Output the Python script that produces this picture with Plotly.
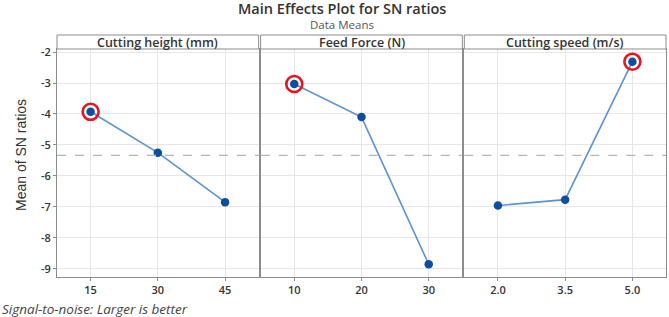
import plotly.graph_objects as go
from plotly.subplots import make_subplots
import numpy as np

# ---- data ----
factor_names = ["Cutting height (mm)", "Feed Force (N)", "Cutting speed (m/s)"]
height_levels = [15, 30, 45]
height_sn = [-3.93, -5.25, -6.85]
force_levels = [10, 20, 30]
force_sn = [-3.03, -4.10, -8.86]
speed_levels = [2.0, 3.5, 5.0]
speed_sn = [-6.96, -6.77, -2.31]
speed_ticklabels = ["2.0", "3.5", "5.0"]
y_ticks = [-2, -3, -4, -5, -6, -7, -8, -9]
y_ticklabels = ["-2", "-3", "-4", "-5", "-6", "-7", "-8", "-9"]

levels = [height_levels, force_levels, speed_levels]
values = [height_sn, force_sn, speed_sn]
ticklabels = [[str(v) for v in height_levels], [str(v) for v in force_levels], speed_ticklabels]

W, H = 669, 317
ml, mr, mt, mb = 57, 3, 35, 40
plot_w = W - ml - mr
plot_h = H - mt - mb
strip_h = 14
ytop = 1 - strip_h / plot_h


def px_x(px):
    return (px - ml) / plot_w


def px_y(py):
    return (H - mb - py) / plot_h


fig = make_subplots(rows=1, cols=3, shared_yaxes=True, horizontal_spacing=0.0033)

line_col = "#5b93d3"
marker_col = "#0d4f9e"
grid_col = "#e6e6e6"
frame_col = "#8c8c8c"
font_fam = "Open Sans, Noto Sans, sans-serif"

grand_mean = float(np.mean(np.concatenate([np.array(v) for v in values])))

for i in range(3):
    x = levels[i]
    y = values[i]
    fig.add_trace(go.Scatter(x=x, y=y, mode="lines+markers",
                             line=dict(color=line_col, width=1.6),
                             marker=dict(color=marker_col, size=8.5),
                             showlegend=False, hoverinfo="skip"), row=1, col=i + 1)
    best = int(np.argmax(y))
    fig.add_trace(go.Scatter(x=[x[best]], y=[y[best]], mode="markers",
                             marker=dict(symbol="circle-open", color="#e8151b", size=16,
                                         line=dict(width=2.6, color="#e8151b")),
                             showlegend=False, hoverinfo="skip"), row=1, col=i + 1)
    step = x[1] - x[0]
    fig.update_xaxes(range=[x[0] - step / 2, x[-1] + step / 2],
                     tickvals=x, ticktext=ticklabels[i], automargin=False,
                     showgrid=True, gridcolor=grid_col, gridwidth=1,
                     zeroline=False, showline=True, linecolor=frame_col, linewidth=1, mirror=True,
                     ticks="outside", ticklen=3, tickcolor=frame_col,
                     tickfont=dict(family=font_fam, size=11, color="#333333", weight=600),
                     row=1, col=i + 1)
    fig.add_hline(y=grand_mean, line=dict(color="#b5b5b5", width=1.3, dash="dash"), row=1, col=i + 1)

fig.update_yaxes(range=[-9.27, -1.9], tickvals=y_ticks, ticktext=y_ticklabels, automargin=False,
                 showgrid=True, gridcolor=grid_col, gridwidth=1,
                 zeroline=False, showline=True, linecolor=frame_col, linewidth=1, mirror=True,
                 domain=[0, ytop])
fig.update_yaxes(ticks="outside", ticklen=3, tickcolor=frame_col,
                 tickfont=dict(family=font_fam, size=11, color="#333333", weight=600),
                 row=1, col=1)

# strip headers
for i in range(3):
    dom = fig.layout["xaxis" + ("" if i == 0 else str(i + 1))].domain
    fig.add_shape(type="rect", xref="paper", yref="paper",
                  x0=dom[0], x1=dom[1], y0=ytop, y1=1,
                  line=dict(color=frame_col, width=1), fillcolor="white")
    fig.add_annotation(text=factor_names[i], xref="paper", yref="paper",
                       x=(dom[0] + dom[1]) / 2, y=(ytop + 1) / 2, showarrow=False,
                       xanchor="center", yanchor="middle", borderpad=0,
                       font=dict(family=font_fam, size=12.5, color="#333333", weight=600))

fig.add_annotation(text="Mean of SN ratios", xref="paper", yref="paper",
                   x=px_x(21), y=px_y(155), showarrow=False, textangle=-90,
                   xanchor="center", yanchor="middle",
                   font=dict(family="Liberation Sans Narrow, Arial Narrow, sans-serif", size=14, color="#333333"))
fig.add_annotation(text="Main Effects Plot for SN ratios", xref="paper", yref="paper",
                   x=px_x(342), y=px_y(9), showarrow=False, borderpad=0,
                   xanchor="center", yanchor="middle",
                   font=dict(family=font_fam, size=14.5, color="#333333", weight=600))
fig.add_annotation(text="Data Means", xref="paper", yref="paper",
                   x=px_x(342), y=px_y(25), showarrow=False, borderpad=0,
                   xanchor="center", yanchor="middle",
                   font=dict(family=font_fam, size=11.5, color="#555555"))
fig.add_annotation(text="<i>Signal-to-noise: Larger is better</i>", xref="paper", yref="paper",
                   x=px_x(0), y=px_y(309), showarrow=False,
                   xanchor="left", yanchor="middle",
                   font=dict(family=font_fam, size=13.5, color="#444444"))

fig.update_layout(width=W, height=H, margin=dict(l=ml, r=mr, t=mt, b=mb, autoexpand=False),
                  paper_bgcolor="white", plot_bgcolor="white", showlegend=False)

fig.write_html("out.html", config={"displayModeBar": False},
               post_script="document.body.style.margin='0';document.body.style.overflow='hidden';")
